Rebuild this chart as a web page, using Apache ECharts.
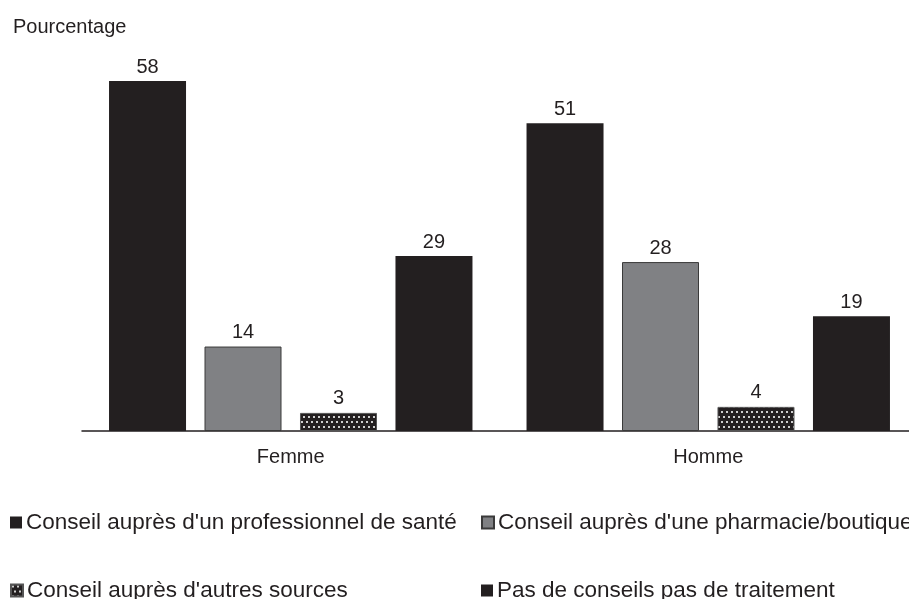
<!DOCTYPE html>
<html>
<head>
<meta charset="utf-8">
<script src="https://cdn.jsdelivr.net/npm/echarts@6/dist/echarts.min.js"></script>
<style>
  html, body { margin: 0; padding: 0; background: #fff; overflow: hidden; width: 909px; height: 599px; }
  #chart { width: 930px; height: 599px; }
</style>
</head>
<body>
<div id="chart"></div>
<script>
// Categories and series values (percentages)
var categories = ['Femme', 'Homme'];
var seriesNames = [
  "Conseil auprès d'un professionnel de santé",
  "Conseil auprès d'une pharmacie/boutique",
  "Conseil auprès d'autres sources",
  "Pas de conseils pas de traitement"
];
var professionnel = [58, 51];
var pharmacie = [14, 28];
var autres = [3, 4];
var aucun = [29, 19];

// Dotted fill for the "other sources" bars
function dotPattern() {
  var c = document.createElement('canvas');
  c.width = 10; c.height = 10;
  var g = c.getContext('2d');
  g.fillStyle = '#231f20';
  g.fillRect(0, 0, 10, 10);
  g.fillStyle = '#cfcfcf';
  g.fillRect(1, 1, 2, 2);
  g.fillRect(6, 1, 2, 2);
  g.fillRect(3, 6, 2, 2);
  g.fillRect(8, 6, 2, 2);
  return c;
}

var font = '"Liberation Sans", Arial, sans-serif';
var dark = '#231f20';
var labelStyle = {
  show: true, position: 'top', distance: 4,
  color: dark, fontSize: 20, fontFamily: font
};

function bar(name, values, itemStyle) {
  return {
    name: name, type: 'bar', data: values,
    barWidth: 77, barGap: '24%',
    itemStyle: itemStyle,
    label: labelStyle,
    emphasis: { disabled: true }
  };
}

// One legend box per entry, laid out in two columns
function legendItem(name, left, top) {
  return {
    left: left, top: top, itemWidth: 12, itemHeight: 12, icon: 'rect',
    data: [name], selectedMode: false,
    textStyle: { fontSize: 22.5, color: dark, fontFamily: font, padding: [0, 0, 0, -1] }
  };
}

var chart = echarts.init(document.getElementById('chart'), null, { renderer: 'canvas' });
chart.setOption({
  animation: false,
  backgroundColor: '#ffffff',
  textStyle: { fontFamily: font },
  title: {
    text: 'Pourcentage', left: 8, top: 12,
    textStyle: { fontSize: 20, fontWeight: 'normal', color: dark, fontFamily: font }
  },
  grid: { left: 82, top: 69, width: 835, height: 362, containLabel: false },
  xAxis: {
    type: 'category', data: categories,
    axisLine: { lineStyle: { color: dark, width: 1.5 } },
    axisTick: { show: false },
    axisLabel: { color: dark, fontSize: 20, margin: 16, fontFamily: font }
  },
  yAxis: {
    type: 'value', min: 0, max: 60,
    show: false, splitLine: { show: false }
  },
  legend: [
    legendItem(seriesNames[0], 5, 506),
    legendItem(seriesNames[1], 476, 506),
    legendItem(seriesNames[2], 5, 574),
    legendItem(seriesNames[3], 476, 574)
  ],
  series: [
    bar(seriesNames[0], professionnel, { color: dark }),
    bar(seriesNames[1], pharmacie, { color: '#808184', borderColor: '#3a3a3a', borderWidth: 1 }),
    bar(seriesNames[2], autres, { color: { image: dotPattern(), repeat: 'repeat' }, borderColor: '#555', borderWidth: 1 }),
    bar(seriesNames[3], aucun, { color: dark })
  ]
});
</script>
</body>
</html>
